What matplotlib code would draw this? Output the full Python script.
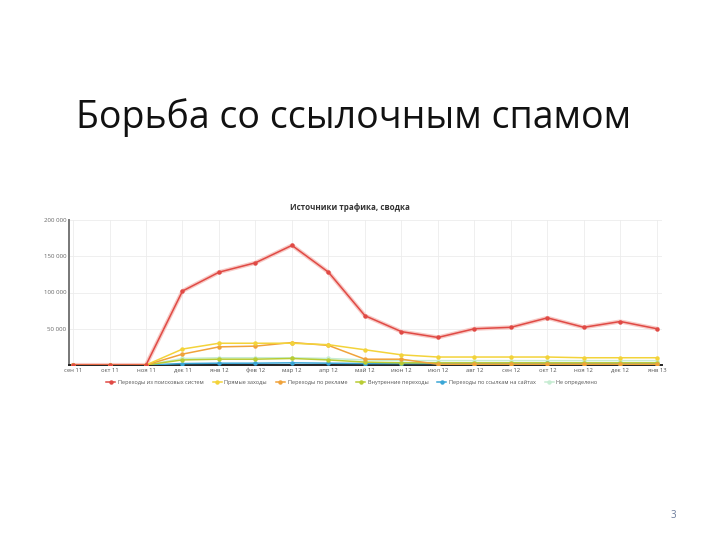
import matplotlib
matplotlib.use("Agg")
import matplotlib.pyplot as plt

months = ["сен 11", "окт 11", "ноя 11", "дек 11", "янв 12", "фев 12", "мар 12",
          "апр 12", "май 12", "июн 12", "июл 12", "авг 12", "сен 12", "окт 12",
          "ноя 12", "дек 12", "янв 13"]

search = [0, 0, 0, 102000, 128000, 141000, 165000, 128000, 68000, 46000, 38000,
          50000, 52000, 65000, 52000, 60000, 50000]
direct = [0, 0, 0, 22000, 30000, 30000, 30000, 28000, 21000, 14000, 11000,
          11000, 11000, 11000, 10000, 10000, 10000]
ads = [0, 0, 0, 15000, 25000, 26000, 31000, 27000, 8000, 8000, 1000,
       1000, 1000, 1000, 1000, 1000, 1000]
internal = [0, 0, 0, 7000, 8000, 8000, 9000, 7000, 4000, 3000, 3000,
            3000, 3000, 3000, 3000, 3000, 3000]
links = [0, 0, 0, 2000, 2500, 2500, 3000, 2500, 2000, 2000, 2000,
         2000, 2000, 2500, 2000, 2000, 2000]
unknown = [0, 0, 0, 9000, 10000, 10000, 10000, 9000, 7000, 6000, 6000,
           6000, 6000, 6000, 6000, 6000, 6000]

series_names = ["Переходы из поисковых систем", "Прямые заходы", "Переходы по рекламе",
                "Внутренние переходы", "Переходы по ссылкам на сайтах", "Не определено"]
series_vals = [search, direct, ads, internal, links, unknown]
series_colors = ["#e04a45", "#f3d33a", "#f0a23a", "#b9cc34", "#3aa6d6", "#c6ecd2"]

yticks = [50000, 100000, 150000, 200000]
ytick_labels = ["50 000", "100 000", "150 000", "200 000"]

fig = plt.figure(figsize=(7.2, 5.4), dpi=100)
fig.patch.set_facecolor("white")

fig.text(354 / 720, 1 - 128 / 540, "Борьба со ссылочным спамом", ha="center", va="baseline",
         fontsize=27, family="Open Sans", color="#111111")
fig.text(673 / 720, 1 - 515 / 540, "3", ha="center", va="center", fontsize=7,
         color="#6a7a9a", family="Open Sans")

ax = fig.add_axes([69 / 720, 1 - 365 / 540, (662 - 69) / 720, (365 - 220) / 540])
x = list(range(len(months)))
order = [5, 4, 3, 2, 1, 0]
for i in order:
    if i == 0:
        ax.plot(x, series_vals[i], color="#f7c9c5", lw=3.0, zorder=2 + i * 0.1)
    ax.plot(x, series_vals[i], color=series_colors[i], lw=1.1, marker="o", ms=2.2,
            zorder=3 + (5 - i) * 0.1, label=series_names[i])

ax.set_xlim(-0.11, 16.14)
ax.set_ylim(0, 200000)
ax.set_xticks(x)
ax.set_xticklabels(months, fontsize=4.2, color="#555555", family="Open Sans")
ax.set_yticks([0] + yticks)
ax.set_yticklabels([""] + ytick_labels, fontsize=4.4, color="#666666", family="Open Sans")
ax.tick_params(axis="both", length=0, pad=2)
ax.grid(True, color="#ececec", lw=0.6)
ax.set_axisbelow(True)
for s in ["top", "right"]:
    ax.spines[s].set_visible(False)
ax.spines["left"].set_color("#777777")
ax.spines["left"].set_linewidth(1.4)
ax.spines["bottom"].set_color("#222222")
ax.spines["bottom"].set_linewidth(1.4)

fig.text(350 / 720, 1 - 208 / 540, "Источники трафика, сводка", ha="center", va="center",
         fontsize=5.8, fontweight="bold", color="#333333", family="Open Sans")

handles, labels = ax.get_legend_handles_labels()
hmap = dict(zip(labels, handles))
leg = fig.legend([hmap[n] for n in series_names], series_names, loc="center",
                 bbox_to_anchor=(352 / 720, 1 - 382 / 540), ncol=6,
                 prop={"family": "Open Sans", "size": 4.0},
                 frameon=False, handlelength=1.6, columnspacing=1.6, handletextpad=0.5)
for t in leg.get_texts():
    t.set_color("#555555")

fig.savefig("out.png", dpi=100, facecolor="white")
